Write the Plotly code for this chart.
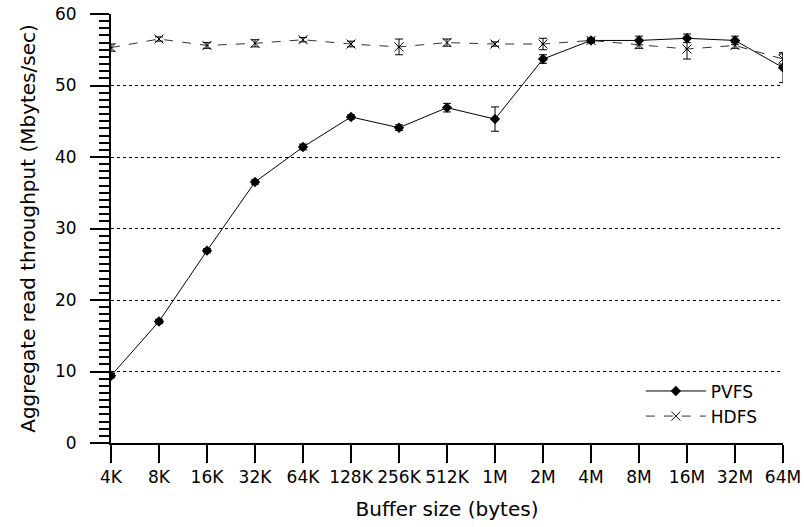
import plotly.graph_objects as go

buffer_sizes = ["4K", "8K", "16K", "32K", "64K", "128K", "256K", "512K",
                "1M", "2M", "4M", "8M", "16M", "32M", "64M"]
pvfs = [9.4, 17.0, 26.9, 36.5, 41.4, 45.6, 44.1, 46.9, 45.3, 53.7, 56.3, 56.3, 56.6, 56.3, 52.5]
pvfs_err = [0.3, 0.3, 0.3, 0.3, 0.4, 0.3, 0.4, 0.6, 1.7, 0.6, 0.3, 0.6, 0.6, 0.6, 2.1]
hdfs = [55.3, 56.5, 55.6, 55.9, 56.4, 55.8, 55.4, 56.0, 55.8, 55.8, 56.3, 55.7, 55.1, 55.6, 53.7]
hdfs_err = [0.5, 0.3, 0.4, 0.5, 0.3, 0.4, 1.1, 0.5, 0.3, 0.8, 0.3, 0.5, 1.4, 0.4, 0.7]
y_ticks = [0, 10, 20, 30, 40, 50, 60]

fig = go.Figure()
fig.add_trace(go.Scatter(
    x=buffer_sizes, y=pvfs, name="PVFS", mode="lines+markers",
    line=dict(color="black", width=1),
    marker=dict(symbol="diamond", size=8, color="black"),
    error_y=dict(type="data", array=pvfs_err, color="black", thickness=1, width=4),
))
fig.add_trace(go.Scatter(
    x=buffer_sizes, y=hdfs, name="HDFS", mode="lines+markers",
    line=dict(color="#333333", width=1, dash="dash"),
    marker=dict(symbol="x-thin-open", size=9, color="black", line=dict(width=1, color="black")),
    error_y=dict(type="data", array=hdfs_err, color="black", thickness=1, width=4),
))

font = dict(family="DejaVu Sans", size=17, color="black")
fig.update_layout(
    width=804, height=527,
    margin=dict(l=111, r=21, t=14, b=84),
    plot_bgcolor="white", paper_bgcolor="white",
    font=font,
    showlegend=True,
    legend=dict(x=0.97, y=0.02, xanchor="right", yanchor="bottom",
                bgcolor="rgba(0,0,0,0)", font=font, itemwidth=60,
                tracegroupgap=2),
    xaxis=dict(
        type="category", categoryorder="array", categoryarray=buffer_sizes,
        range=[0, len(buffer_sizes) - 1], automargin=False,
        showline=True, linecolor="black", linewidth=2,
        ticks="outside", ticklen=18, tickwidth=1.5, tickcolor="black",
        showgrid=False, zeroline=False,
        title=dict(text="Buffer size (bytes)", standoff=16),
        tickfont=font,
    ),
    yaxis=dict(
        range=[0, 60], tickvals=y_ticks, automargin=False,
        showline=True, linecolor="black", linewidth=2,
        ticks="outside", ticklen=19, tickwidth=2, tickcolor="black",
        ticklabelstandoff=10,
        showgrid=True, gridcolor="black", griddash="dot", gridwidth=1,
        zeroline=False,
        minor=dict(dtick=1, ticks="outside", ticklen=10, tickwidth=1.5,
                   tickcolor="black", showgrid=False),
        title=dict(text="Aggregate read throughput (Mbytes/sec)", standoff=14),
        tickfont=font,
    ),
)

fig.write_html("out.html", config={"displayModeBar": False},
               post_script="document.body.style.margin='0';")
